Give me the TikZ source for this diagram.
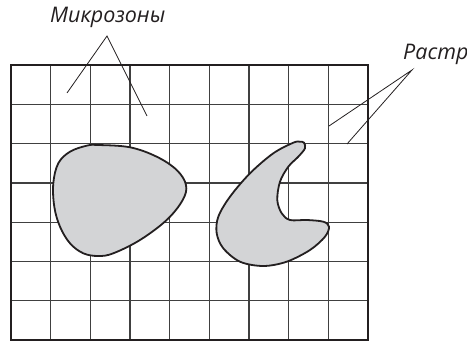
\documentclass[tikz,border=0pt]{standalone}
\usepackage{fontspec}
\setmainfont{Open Sans}
\definecolor{ink}{HTML}{231F20}
\definecolor{gridc}{HTML}{404040}
\definecolor{blobfill}{HTML}{D3D4D6}
\begin{document}
\begin{tikzpicture}[x=1pt,y=-1pt,
  gridline/.style={draw=gridc,line width=1.3pt},
  frame/.style={draw=ink,line width=2.4pt},
  blob/.style={draw=ink,fill=blobfill,line width=1.8pt},
  leader/.style={draw=ink,line width=0.8pt},
  lbl/.style={font=\fontsize{21.5}{24}\selectfont\itshape,text=ink,inner sep=0pt}]
\useasboundingbox (0,0) rectangle (467,342);
% grid
\foreach \i in {1,...,8} {
  \draw[gridline] ({11+\i*39.67},65) -- ({11+\i*39.67},340);
}
\foreach \j in {1,...,6} {
  \draw[gridline] (11,{65+\j*39.3}) -- (368,{65+\j*39.3});
}
% blobs
\draw[blob] plot[smooth cycle,tension=0.6] coordinates {
 (98.3,145) (130,147.3) (156.7,156.7) (176.7,170) (186,185) (182.7,200)
 (166.7,220) (140,240) (113.3,253.3) (98.3,256) (83.3,253.3) (70,243.3)
 (60,226.7) (54.3,206.7) (53.3,183.3) (58.3,163.3) (70,151.7) (86.7,145.7)};
\draw[blob] plot[smooth cycle,tension=0.55] coordinates {
 (293.3,142.7) (273.3,153.3) (250,173.3) (230,196.7) (218.3,216.7) (216.7,233.3)
 (223.3,248.3) (240,261.7) (263.3,266) (286.7,261.7) (310,250) (325,236.7)
 (329,226.7) (323.3,221.7) (306.7,220) (290,220) (281.7,213.3) (277.3,200)
 (280,181.7) (288.3,166.7) (298.3,156.7) (305,148.3) (304,142.7) (300,141.7)};
% frame
\draw[frame] (11,65) rectangle (368,340);
% labels
\node[lbl,anchor=base west] (mz) at (50,22.7) {Микрозоны};
\node[lbl,anchor=base west] (rs) at (403,60) {Растр};
\coordinate (mzapex) at (107,36);
\coordinate (mz1) at (67,93);
\coordinate (mz2) at (147,116);
\coordinate (rsapex) at (412,70);
\coordinate (rs1) at (329,126);
\coordinate (rs2) at (347,144);
\draw[leader] (mz1) -- (mzapex) -- (mz2);
\draw[leader] (rs1) -- (rsapex) -- (rs2);
\end{tikzpicture}
\end{document}
